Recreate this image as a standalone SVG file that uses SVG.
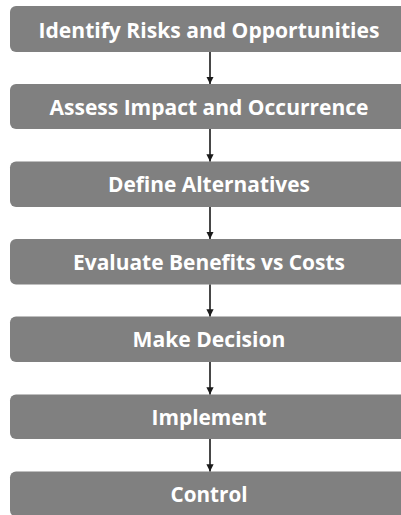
<svg xmlns="http://www.w3.org/2000/svg" width="401" height="515" viewBox="0 0 401 515">
<style>
.box{fill:#808080}
.lbl{font-family:"Open Sans","Noto Sans",sans-serif;font-weight:bold;font-size:21px;fill:#ffffff;text-anchor:middle}
.edge{stroke:#1a1a1a;stroke-width:1.6;fill:none;marker-end:url(#ah)}
</style>
<defs>
<marker id="ah" viewBox="0 0 10 10" refX="10" refY="5" markerWidth="4.5" markerHeight="4.5" orient="auto" markerUnits="strokeWidth">
<path d="M0,0 L10,5 L0,10 Z" fill="#1a1a1a"/>
</marker>
</defs>
<rect width="401" height="515" fill="#ffffff"/>
<g id="n1"><rect class="box" x="10" y="6" width="398" height="46" rx="6"/><text class="lbl" x="209" y="38" textLength="341" lengthAdjust="spacingAndGlyphs">Identify Risks and Opportunities</text></g>
<g id="n2"><rect class="box" x="10" y="84" width="398" height="45" rx="6"/><text class="lbl" x="209" y="114.5" textLength="319" lengthAdjust="spacingAndGlyphs">Assess Impact and Occurrence</text></g>
<g id="n3"><rect class="box" x="10" y="161.5" width="398" height="45.5" rx="6"/><text class="lbl" x="209" y="191.5" textLength="202" lengthAdjust="spacingAndGlyphs">Define Alternatives</text></g>
<g id="n4"><rect class="box" x="10" y="239" width="398" height="45.5" rx="6"/><text class="lbl" x="209" y="269.5" textLength="272" lengthAdjust="spacingAndGlyphs">Evaluate Benefits vs Costs</text></g>
<g id="n5"><rect class="box" x="10" y="316.5" width="398" height="45.5" rx="6"/><text class="lbl" x="209" y="346.5" textLength="153" lengthAdjust="spacingAndGlyphs">Make Decision</text></g>
<g id="n6"><rect class="box" x="10" y="394.5" width="398" height="44.5" rx="6"/><text class="lbl" x="209" y="424.5" textLength="115" lengthAdjust="spacingAndGlyphs">Implement</text></g>
<g id="n7"><rect class="box" x="10" y="471.5" width="398" height="45" rx="6"/><text class="lbl" x="209" y="502" textLength="77" lengthAdjust="spacingAndGlyphs">Control</text></g>
<g id="edges">
<line class="edge" x1="210" y1="52" x2="210" y2="84"/>
<line class="edge" x1="210" y1="129" x2="210" y2="161.5"/>
<line class="edge" x1="210" y1="207" x2="210" y2="239"/>
<line class="edge" x1="210" y1="284.5" x2="210" y2="316.5"/>
<line class="edge" x1="210" y1="362" x2="210" y2="394.5"/>
<line class="edge" x1="210" y1="439" x2="210" y2="471.5"/>
</g>
</svg>
